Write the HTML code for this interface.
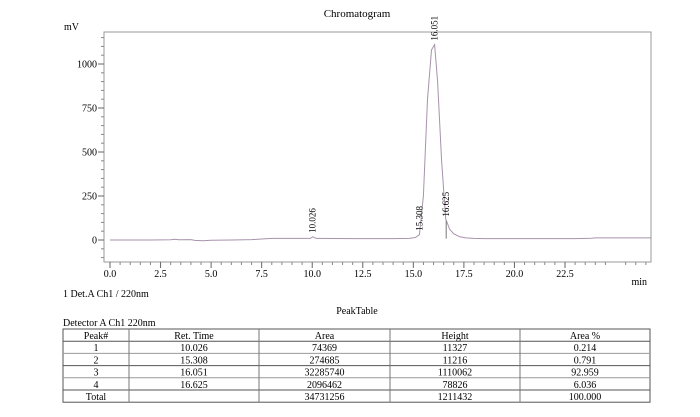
<!DOCTYPE html>
<html><head><meta charset="utf-8"><style>
body{margin:0;background:#fff;}
svg text{font-family:"Liberation Serif",serif;fill:#000;}
</style></head><body>
<svg width="700" height="412" xmlns="http://www.w3.org/2000/svg">
<text x="357" y="17" font-size="11" text-anchor="middle">Chromatogram</text>
<text x="64" y="30" font-size="10">mV</text>
<text x="647" y="285" font-size="10" text-anchor="end">min</text>
<text x="63" y="297" font-size="10">1 Det.A Ch1 / 220nm</text>
<rect x="104" y="32" width="547" height="230" fill="none" stroke="#999" stroke-width="1"/>
<g id="axes"></g>
<path id="trace" fill="none" stroke="#a892ac" stroke-width="1"/>
<g id="peaks"></g>
<text x="357" y="314" font-size="10" text-anchor="middle">PeakTable</text>
<text x="63" y="326" font-size="10">Detector A Ch1 220nm</text>
<g id="table"></g>
</svg>
<script>
const times=[0,2,3,3.2,3.4,4,4.2,4.6,5,6,7,7.6,8,9,9.9,10.03,10.2,12,14,14.8,15.1,15.3,15.5,15.7,15.9,16.05,16.2,16.4,16.6,16.8,17.0,17.3,17.6,18,18.5,20,23,23.8,24,26.75];
const signal=[0,0,1,4,1,2,-2,-4,-1,0,2,6,9,9,9,18,9,8,8,9,14,30,250,800,1080,1110,900,450,120,60,35,18,12,9,8,8,8,10,12,12];
const xTicks=[0,2.5,5,7.5,10,12.5,15,17.5,20,22.5];
const yTicks=[0,250,500,750,1000];
const peakTimes=[10.026,15.308,16.051,16.625];
const peakLabels=["10.026","15.308","16.051","16.625"];
const peakHeights=[18,30,1110,110];
const tableHeader=["Peak#","Ret. Time","Area","Height","Area %"];
const rowPeak=["1","2","3","4","Total"];
const rowRet=["10.026","15.308","16.051","16.625",""];
const rowArea=["74369","274685","32285740","2096462","34731256"];
const rowHeight=["11327","11216","1110062","78826","1211432"];
const rowPct=["0.214","0.791","92.959","6.036","100.000"];

const NS="http://www.w3.org/2000/svg";
const X=t=>110+t*(565-110)/22.5;
const Y=v=>240-v*(240-64)/1000;
function mk(tag,attrs,parent){const e=document.createElementNS(NS,tag);for(const k in attrs)e.setAttribute(k,attrs[k]);parent.appendChild(e);return e;}
const axes=document.getElementById('axes');
xTicks.forEach(t=>{
  const l=mk('line',{x1:X(t),x2:X(t),y1:262,y2:268,stroke:'#666'},axes);
  
  
  const tx=mk('text',{x:X(t),y:277,'font-size':10,'text-anchor':'middle'},axes);tx.textContent=t.toFixed(1);
  
  
});
for(let t=0;t<=26.5;t+=0.5){if(Math.abs(t/2.5-Math.round(t/2.5))<1e-6)continue;
  const l=mk('line',{x1:X(t),x2:X(t),y1:262,y2:265,stroke:'#888'},axes);
  
  }
yTicks.forEach(v=>{
  const l=mk('line',{x1:98,x2:104,y1:Y(v),y2:Y(v),stroke:'#666'},axes);
  
  
  const tx=mk('text',{x:97,y:Y(v)+3.5,'font-size':10,'text-anchor':'end'},axes);tx.textContent=v;
  
  
});
for(let v=-100;v<=1150;v+=50){if(v%250===0)continue;
  const l=mk('line',{x1:101,x2:104,y1:Y(v),y2:Y(v),stroke:'#888'},axes);
  
  }
document.getElementById('trace').setAttribute('d',times.map((t,i)=>(i?'L':'M')+X(t).toFixed(1)+','+Y(signal[i]).toFixed(1)).join(''));
const pk=document.getElementById('peaks');
peakTimes.forEach((t,i)=>{
  const x=X(t),y=Y(peakHeights[i])-4;
  if(i===3){const l=mk('line',{x1:x,x2:x,y1:Y(peakHeights[i]),y2:Y(8),stroke:'#777'},pk);
    
    }
  const tx=mk('text',{x:0,y:0,'font-size':9,transform:`translate(${x+3},${y}) rotate(-90)`},pk);tx.textContent=peakLabels[i];
  
  
});
const tb=document.getElementById('table');
const cols=[63,129,259,390,520,650];
const tableTop=329,rh=12.2;
const rows=[tableHeader];for(let i=0;i<5;i++)rows.push([rowPeak[i],rowRet[i],rowArea[i],rowHeight[i],rowPct[i]]);
const fr=mk('rect',{x:63,y:tableTop,width:587,height:rh*6,fill:'none',stroke:'#555'},tb);


for(let r=1;r<6;r++){const l=mk('line',{x1:63,x2:650,y1:tableTop+rh*r,y2:tableTop+rh*r,stroke:(r===1||r===3||r===5)?'#555':'#999'},tb);
  
  }
for(let c=1;c<5;c++){const l=mk('line',{x1:cols[c],x2:cols[c],y1:tableTop,y2:tableTop+rh*6,stroke:'#777'},tb);
  
  }
rows.forEach((row,r)=>row.forEach((s,c)=>{
  const tx=mk('text',{x:(cols[c]+cols[c+1])/2,y:tableTop+rh*r+10,'font-size':10,'text-anchor':'middle'},tb);tx.textContent=s;
  
  
}));
</script>
</body></html>
